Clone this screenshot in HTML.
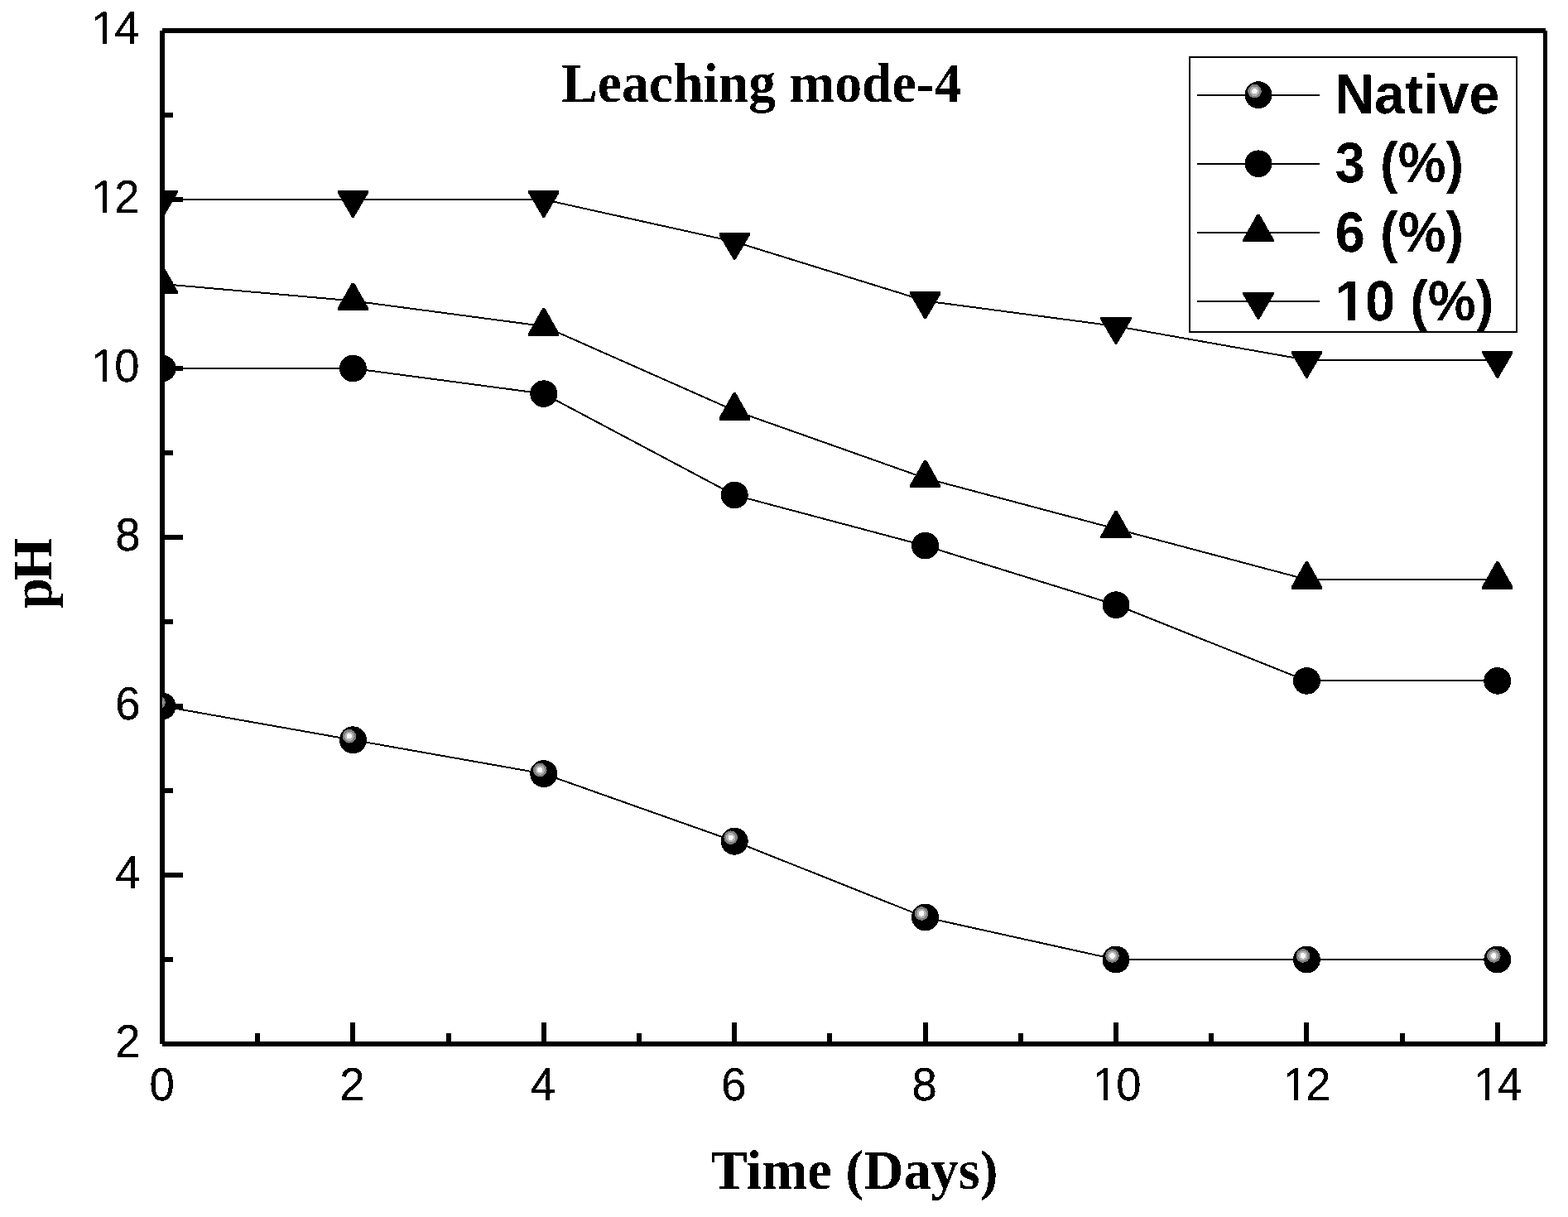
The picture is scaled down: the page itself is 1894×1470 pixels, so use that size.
<!DOCTYPE html>
<html lang="en">
<head>
<meta charset="utf-8">
<title>Leaching mode-4</title>
<style>
html,body{margin:0;padding:0;background:#fff;}
body{width:1894px;height:1470px;overflow:hidden;}
svg{display:block;}
.tick{text-rendering:geometricPrecision;font-family:"Liberation Sans",Arial,Helvetica,sans-serif;font-size:54.5px;fill:#000;}
.leg{text-rendering:geometricPrecision;font-family:"Liberation Sans",Arial,Helvetica,sans-serif;font-weight:bold;font-size:66px;fill:#000;}
.ttl{font-family:"Liberation Serif","Times New Roman",Times,serif;font-weight:bold;font-size:66.5px;fill:#000;}
</style>
</head>
<body>
<svg width="1894" height="1470" viewBox="0 0 1894 1470">
<defs>
<filter id="bw" x="-5%" y="-20%" width="110%" height="140%" color-interpolation-filters="sRGB"><feComponentTransfer><feFuncA type="discrete" tableValues="0 1"/></feComponentTransfer></filter>
<filter id="bw2" x="-5%" y="-20%" width="110%" height="140%" color-interpolation-filters="sRGB"><feComponentTransfer><feFuncA type="discrete" tableValues="0 0 1 1 1 1"/></feComponentTransfer></filter>
<clipPath id="plot"><rect x="196" y="37" width="1672" height="1224"/></clipPath>
<clipPath id="legclip"><rect x="1438" y="70" width="393" height="330"/></clipPath>
</defs>
<rect x="0" y="0" width="1894" height="1470" fill="#fff"/>

<g fill="#000" shape-rendering="crispEdges">
<rect x="193" y="37" width="6" height="1224"/>
<rect x="196" y="34" width="1671" height="6"/>
<rect x="196" y="1258" width="1671" height="6"/>
<rect x="1864" y="37" width="5" height="1224"/>
<rect x="196" y="1156.0" width="13" height="6"/>
<rect x="196" y="1054.0" width="25" height="6"/>
<rect x="196" y="952.0" width="13" height="6"/>
<rect x="196" y="850.0" width="25" height="6"/>
<rect x="196" y="748.0" width="13" height="6"/>
<rect x="196" y="646.0" width="25" height="6"/>
<rect x="196" y="544.0" width="13" height="6"/>
<rect x="196" y="442.0" width="25" height="6"/>
<rect x="196" y="340.0" width="13" height="6"/>
<rect x="196" y="238.0" width="25" height="6"/>
<rect x="196" y="136.0" width="13" height="6"/>
<rect x="308.2" y="1248.0" width="6" height="13"/>
<rect x="423.4" y="1235.0" width="6" height="26"/>
<rect x="538.6" y="1248.0" width="6" height="13"/>
<rect x="653.8" y="1235.0" width="6" height="26"/>
<rect x="769.0" y="1248.0" width="6" height="13"/>
<rect x="884.2" y="1235.0" width="6" height="26"/>
<rect x="999.4" y="1248.0" width="6" height="13"/>
<rect x="1114.6" y="1235.0" width="6" height="26"/>
<rect x="1229.8" y="1248.0" width="6" height="13"/>
<rect x="1345.0" y="1235.0" width="6" height="26"/>
<rect x="1460.2" y="1248.0" width="6" height="13"/>
<rect x="1575.4" y="1235.0" width="6" height="26"/>
<rect x="1690.6" y="1248.0" width="6" height="13"/>
<rect x="1805.8" y="1235.0" width="6" height="26"/>
</g>
<g class="tick" filter="url(#bw2)">
<text transform="translate(0,1277.2) scale(1,1.03)" x="139.19" y="0">2</text>
<text transform="translate(0,1073.2) scale(1,1.03)" x="139.19" y="0">4</text>
<text transform="translate(0,869.2) scale(1,1.03)" x="139.19" y="0">6</text>
<text transform="translate(0,665.2) scale(1,1.03)" x="139.19" y="0">8</text>
<text transform="translate(0,461.2) scale(1,1.03)" x="109.88 138.19" y="0">10</text>
<text transform="translate(0,257.2) scale(1,1.03)" x="109.88 138.19" y="0">12</text>
<text transform="translate(0,53.2) scale(1,1.03)" x="109.88 138.19" y="0">14</text>
<text transform="translate(0,1329.3) scale(1,1.03)" x="180.54" y="0">0</text>
<text transform="translate(0,1329.3) scale(1,1.03)" x="410.34" y="0">2</text>
<text transform="translate(0,1329.3) scale(1,1.03)" x="640.74" y="0">4</text>
<text transform="translate(0,1329.3) scale(1,1.03)" x="871.14" y="0">6</text>
<text transform="translate(0,1329.3) scale(1,1.03)" x="1101.54" y="0">8</text>
<text transform="translate(0,1329.3) scale(1,1.03)" x="1319.39 1348.20" y="0">10</text>
<text transform="translate(0,1329.3) scale(1,1.03)" x="1549.79 1577.10" y="0">12</text>
<text transform="translate(0,1329.3) scale(1,1.03)" x="1780.19 1808.50" y="0">14</text>
</g>
<g fill="#fff" shape-rendering="crispEdges">
<rect x="113" y="455.41" width="11" height="6.99"/>
<rect x="129" y="455.41" width="11" height="6.99"/>
<rect x="113" y="251.41" width="11" height="6.99"/>
<rect x="129" y="251.41" width="11" height="6.99"/>
<rect x="113" y="47.41" width="11" height="6.99"/>
<rect x="129" y="47.41" width="11" height="6.99"/>
<rect x="1322" y="1323.51" width="11" height="6.99"/>
<rect x="1338" y="1323.51" width="11" height="6.99"/>
<rect x="1552" y="1323.51" width="11" height="6.99"/>
<rect x="1568" y="1323.51" width="11" height="6.99"/>
<rect x="1783" y="1323.51" width="11" height="6.99"/>
<rect x="1799" y="1323.51" width="11" height="6.99"/>
</g>
<g filter="url(#bw)">
<text class="ttl" transform="translate(919.7,123) scale(0.988,1.012)" text-anchor="middle">Leaching mode-4</text>
<text class="ttl" transform="translate(1032.1,1436) scale(0.998,1.012)" text-anchor="middle">Time (Days)</text>
<text class="ttl" transform="translate(62,735.2) rotate(-90) scale(1,1.012)">p<tspan dx="-3.2">H</tspan></text>
</g>
<g clip-path="url(#plot)" shape-rendering="crispEdges">
<polyline points="196.0,853.0 426.4,893.8 656.8,934.6 887.2,1016.2 1117.6,1108.0 1348.0,1159.0 1578.4,1159.0 1808.8,1159.0" fill="none" stroke="#000" stroke-width="2" stroke-linejoin="round"/>
<polyline points="196.0,445.0 426.4,445.0 656.8,475.6 887.2,598.0 1117.6,659.2 1348.0,730.6 1578.4,822.4 1808.8,822.4" fill="none" stroke="#000" stroke-width="2" stroke-linejoin="round"/>
<polyline points="196.0,343.0 426.4,363.4 656.8,394.0 887.2,496.0 1117.6,577.6 1348.0,638.8 1578.4,700.0 1808.8,700.0" fill="none" stroke="#000" stroke-width="2" stroke-linejoin="round"/>
<polyline points="196.0,241.0 426.4,241.0 656.8,241.0 887.2,292.0 1117.6,363.4 1348.0,394.0 1578.4,434.8 1808.8,434.8" fill="none" stroke="#000" stroke-width="2" stroke-linejoin="round"/>
<circle cx="196.0" cy="853.0" r="16.5" fill="#000"/><circle cx="191.5" cy="848.5" r="8.3" fill="#7f7f7f"/><circle cx="191.5" cy="848.5" r="5.7" fill="#b4b4b4"/><circle cx="191.5" cy="848.5" r="3.2" fill="#fafafa"/>
<circle cx="426.4" cy="893.8" r="16.5" fill="#000"/><circle cx="421.9" cy="889.3" r="8.3" fill="#7f7f7f"/><circle cx="421.9" cy="889.3" r="5.7" fill="#b4b4b4"/><circle cx="421.9" cy="889.3" r="3.2" fill="#fafafa"/>
<circle cx="656.8" cy="934.6" r="16.5" fill="#000"/><circle cx="652.3" cy="930.1" r="8.3" fill="#7f7f7f"/><circle cx="652.3" cy="930.1" r="5.7" fill="#b4b4b4"/><circle cx="652.3" cy="930.1" r="3.2" fill="#fafafa"/>
<circle cx="887.2" cy="1016.2" r="16.5" fill="#000"/><circle cx="882.7" cy="1011.7" r="8.3" fill="#7f7f7f"/><circle cx="882.7" cy="1011.7" r="5.7" fill="#b4b4b4"/><circle cx="882.7" cy="1011.7" r="3.2" fill="#fafafa"/>
<circle cx="1117.6" cy="1108.0" r="16.5" fill="#000"/><circle cx="1113.1" cy="1103.5" r="8.3" fill="#7f7f7f"/><circle cx="1113.1" cy="1103.5" r="5.7" fill="#b4b4b4"/><circle cx="1113.1" cy="1103.5" r="3.2" fill="#fafafa"/>
<circle cx="1348.0" cy="1159.0" r="16.5" fill="#000"/><circle cx="1343.5" cy="1154.5" r="8.3" fill="#7f7f7f"/><circle cx="1343.5" cy="1154.5" r="5.7" fill="#b4b4b4"/><circle cx="1343.5" cy="1154.5" r="3.2" fill="#fafafa"/>
<circle cx="1578.4" cy="1159.0" r="16.5" fill="#000"/><circle cx="1573.9" cy="1154.5" r="8.3" fill="#7f7f7f"/><circle cx="1573.9" cy="1154.5" r="5.7" fill="#b4b4b4"/><circle cx="1573.9" cy="1154.5" r="3.2" fill="#fafafa"/>
<circle cx="1808.8" cy="1159.0" r="16.5" fill="#000"/><circle cx="1804.3" cy="1154.5" r="8.3" fill="#7f7f7f"/><circle cx="1804.3" cy="1154.5" r="5.7" fill="#b4b4b4"/><circle cx="1804.3" cy="1154.5" r="3.2" fill="#fafafa"/>
<ellipse cx="196.0" cy="445.0" rx="16.5" ry="16.3" fill="#000"/>
<ellipse cx="426.4" cy="445.0" rx="16.5" ry="16.3" fill="#000"/>
<ellipse cx="656.8" cy="475.6" rx="16.5" ry="16.3" fill="#000"/>
<ellipse cx="887.2" cy="598.0" rx="16.5" ry="16.3" fill="#000"/>
<ellipse cx="1117.6" cy="659.2" rx="16.5" ry="16.3" fill="#000"/>
<ellipse cx="1348.0" cy="730.6" rx="16.5" ry="16.3" fill="#000"/>
<ellipse cx="1578.4" cy="822.4" rx="16.5" ry="16.3" fill="#000"/>
<ellipse cx="1808.8" cy="822.4" rx="16.5" ry="16.3" fill="#000"/>
<polygon points="194.4,321.4 197.6,321.4 214.6,351.6 214.6,354.6 177.4,354.6 177.4,351.6" fill="#000"/>
<polygon points="424.8,341.8 428.0,341.8 445.0,372.0 445.0,375.0 407.8,375.0 407.8,372.0" fill="#000"/>
<polygon points="655.2,372.4 658.4,372.4 675.4,402.6 675.4,405.6 638.2,405.6 638.2,402.6" fill="#000"/>
<polygon points="885.6,474.4 888.8,474.4 905.8,504.6 905.8,507.6 868.6,507.6 868.6,504.6" fill="#000"/>
<polygon points="1116.0,556.0 1119.2,556.0 1136.2,586.2 1136.2,589.2 1099.0,589.2 1099.0,586.2" fill="#000"/>
<polygon points="1346.4,617.2 1349.6,617.2 1366.6,647.4 1366.6,650.4 1329.4,650.4 1329.4,647.4" fill="#000"/>
<polygon points="1576.8,678.4 1580.0,678.4 1597.0,708.6 1597.0,711.6 1559.8,711.6 1559.8,708.6" fill="#000"/>
<polygon points="1807.2,678.4 1810.4,678.4 1827.4,708.6 1827.4,711.6 1790.2,711.6 1790.2,708.6" fill="#000"/>
<polygon points="177.4,230.0 214.6,230.0 214.6,233.0 197.0,263.0 195.0,263.0 177.4,233.0" fill="#000"/>
<polygon points="407.8,230.0 445.0,230.0 445.0,233.0 427.4,263.0 425.4,263.0 407.8,233.0" fill="#000"/>
<polygon points="638.2,230.0 675.4,230.0 675.4,233.0 657.8,263.0 655.8,263.0 638.2,233.0" fill="#000"/>
<polygon points="868.6,281.0 905.8,281.0 905.8,284.0 888.2,314.0 886.2,314.0 868.6,284.0" fill="#000"/>
<polygon points="1099.0,352.4 1136.2,352.4 1136.2,355.4 1118.6,385.4 1116.6,385.4 1099.0,355.4" fill="#000"/>
<polygon points="1329.4,383.0 1366.6,383.0 1366.6,386.0 1349.0,416.0 1347.0,416.0 1329.4,386.0" fill="#000"/>
<polygon points="1559.8,423.8 1597.0,423.8 1597.0,426.8 1579.4,456.8 1577.4,456.8 1559.8,426.8" fill="#000"/>
<polygon points="1790.2,423.8 1827.4,423.8 1827.4,426.8 1809.8,456.8 1807.8,456.8 1790.2,426.8" fill="#000"/>
</g>
<rect x="1437" y="69" width="395" height="332" fill="#fff" stroke="#000" stroke-width="2" shape-rendering="crispEdges"/>
<g clip-path="url(#legclip)" shape-rendering="crispEdges">
<rect x="1446" y="113.7" width="148" height="2" fill="#000" shape-rendering="crispEdges"/>
<circle cx="1520.0" cy="114.7" r="16.5" fill="#000"/><circle cx="1515.5" cy="110.2" r="8.3" fill="#7f7f7f"/><circle cx="1515.5" cy="110.2" r="5.7" fill="#b4b4b4"/><circle cx="1515.5" cy="110.2" r="3.2" fill="#fafafa"/>
<text class="leg" filter="url(#bw)" transform="translate(1612.2,136.8) scale(1.005,1.03)">Native</text>
<rect x="1446" y="196.7" width="148" height="2" fill="#000" shape-rendering="crispEdges"/>
<ellipse cx="1520.0" cy="197.7" rx="16.5" ry="16.3" fill="#000"/>
<text class="leg" filter="url(#bw)" transform="translate(1612.8,220.3) scale(0.985,1.04)">3 (%)</text>
<rect x="1446" y="279.5" width="148" height="2" fill="#000" shape-rendering="crispEdges"/>
<polygon points="1518.4,258.9 1521.6,258.9 1538.6,289.1 1538.6,292.1 1501.4,292.1 1501.4,289.1" fill="#000"/>
<text class="leg" filter="url(#bw)" transform="translate(1612.8,303.8) scale(0.985,1.04)">6 (%)</text>
<rect x="1446" y="362.8" width="148" height="2" fill="#000" shape-rendering="crispEdges"/>
<polygon points="1501.4,352.8 1538.6,352.8 1538.6,355.8 1521.0,385.8 1519.0,385.8 1501.4,355.8" fill="#000"/>
<text class="leg" filter="url(#bw)" transform="translate(1612.8,387.2) scale(0.985,1.04)">10 (%)</text>
<rect x="1616" y="378.66" width="12" height="9.74" fill="#fff"/>
<rect x="1637" y="378.66" width="11.5" height="9.74" fill="#fff"/>
</g>
</svg>
</body>
</html>
